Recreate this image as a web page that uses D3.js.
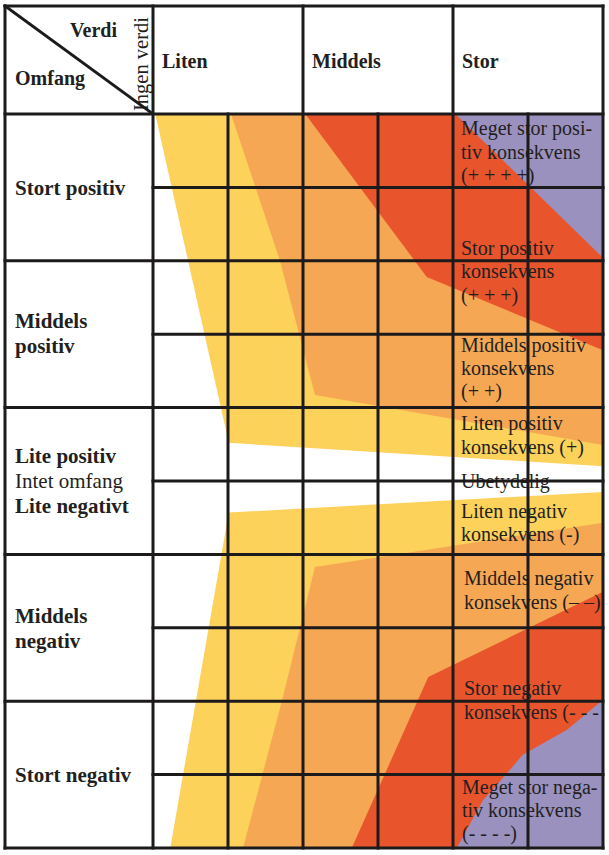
<!DOCTYPE html>
<html>
<head>
<meta charset="utf-8">
<script src="https://cdn.jsdelivr.net/npm/d3@7"></script>
<style>
html,body{margin:0;padding:0;background:#fff;}
svg{display:block;}
text{font-family:"Liberation Serif","Times New Roman",serif;fill:#231f20;}
</style>
</head>
<body>
<svg id="chart" width="609" height="855"></svg>
<script>
// ---- data ----
const valueCategories = ["Liten", "Middels", "Stor"];
const scopeCategories = ["Stort positiv", "Middels positiv", "Lite positiv / Intet omfang / Lite negativt", "Middels negativ", "Stort negativ"];
const scopeLabelLines = [
  [["Stort positiv", true]],
  [["Middels", true], ["positiv", true]],
  [["Lite positiv", true], ["Intet omfang", false], ["Lite negativt", true]],
  [["Middels", true], ["negativ", true]],
  [["Stort negativ", true]]
];
// band boundaries in grid units: x = sub-column (0..6), y = sub-row (0..10)
const yellowUpper = [[0.03,0],[6,0],[6,4.80],[1.01,4.48]];
const yellowLower = [[1.01,5.43],[6,5.15],[6,10],[0.23,10]];
const orangeUpper = [[1.04,0],[6,0],[6,4.51],[2.16,3.83],[1.69,1.99]];
const orangeLower = [[2.16,6.17],[6,5.57],[6,10],[1.20,10],[1.72,7.99]];
const redUpper = [[2.03,0],[6,0],[6,3.22],[3.65,2.22]];
const redLower = [[3.67,7.67],[6,6.51],[6,10],[2.65,10]];
const purpleUpper = [[4.03,0],[6,0],[6,1.96]];
const purpleLower = [[6,7.98],[6,10],[4.05,10],[4.40,9.35],[4.72,8.98],[4.93,8.73],[5.52,8.39]];
// row = first baseline position in sub-row units
const consequenceLabels = [
  {row:0.29, dx:0, lines:["Meget stor posi-","tiv konsekvens","(+ + + +)"]},
  {row:1.92, dx:0, lines:["Stor positiv","konsekvens","(+ + +)"]},
  {row:3.24, dx:0, lines:["Middels positiv","konsekvens","(+ +)"]},
  {row:4.31, dx:0, lines:["Liten positiv","konsekvens (+)"]},
  {row:5.10, dx:0, lines:["Ubetydelig"]},
  {row:5.50, dx:0, lines:["Liten negativ","konsekvens (-)"]},
  {row:6.42, dx:3, lines:["Middels negativ","konsekvens (– –)"]},
  {row:7.92, dx:3, lines:["Stor negativ","konsekvens (- - -"]},
  {row:9.26, dx:1, lines:["Meget stor nega-","tiv konsekvens","(- - - -)"]}
];

// ---- layout ----
const svg = d3.select("#chart");
const L = 5, T = 6, R = 603, B = 848, colX = 153, headB = 114;
const x = d3.scaleLinear().domain([0,6]).range([colX, R]);
const y = d3.scaleLinear().domain([0,10]).range([headB, B]);
const line = d3.line().x(d => x(d[0])).y(d => y(d[1]));

const bands = [
  [yellowUpper, "#fdd25b"], [yellowLower, "#fdd25b"],
  [orangeUpper, "#f6a753"], [orangeLower, "#f6a753"],
  [redUpper, "#e8552d"], [redLower, "#e8552d"],
  [purpleUpper, "#9a91bf"], [purpleLower, "#9a91bf"]
];
svg.append("g").selectAll("path").data(bands).join("path")
  .attr("d", d => line(d[0]) + "Z")
  .attr("fill", d => d[1]);

// clip for text inside chart
svg.append("clipPath").attr("id","clip").append("rect")
  .attr("x", L).attr("y", T).attr("width", R - L).attr("height", B - T);

const tg = svg.append("g").attr("clip-path","url(#clip)");

// header texts
tg.append("text").attr("x", 70).attr("y", 37).attr("font-size", 20).attr("font-weight", "bold").text("Verdi");
tg.append("text").attr("x", 15).attr("y", 85).attr("font-size", 20).attr("font-weight", "bold").text("Omfang");
tg.append("text").attr("transform", "translate(148,111) rotate(-90)").attr("font-size", 20.5).text("Ingen verdi");

tg.selectAll("text.val").data(valueCategories).join("text").attr("class","val")
  .attr("x", (d,i) => x(i*2) + 9).attr("y", 68)
  .attr("font-size", 20).attr("font-weight","bold").text(d => d);

// scope labels
const scopeBaselines = [195, 328, 463, 623, 782];
scopeLabelLines.forEach((lines, i) => {
  lines.forEach((ln, j) => {
    tg.append("text").attr("x", 15).attr("y", scopeBaselines[i] + j*25)
      .attr("font-size", 21).attr("font-weight", ln[1] ? "bold" : "normal")
      .text(ln[0]);
  });
});

// consequence labels
consequenceLabels.forEach(c => {
  c.lines.forEach((ln, j) => {
    tg.append("text").attr("x", x(4) + 8 + c.dx).attr("y", y(c.row) + j*23.3)
      .attr("font-size", 20).text(ln);
  });
});

// grid lines
const g = svg.append("g").attr("stroke", "#1c1a1a").attr("stroke-width", 3).attr("stroke-linecap","square");
// diagonal
g.append("line").attr("x1", L).attr("y1", T).attr("x2", colX).attr("y2", headB);
// horizontal
g.append("line").attr("x1", L).attr("x2", R).attr("y1", T).attr("y2", T);
g.append("line").attr("x1", L).attr("x2", R).attr("y1", headB).attr("y2", headB);
g.selectAll("line.h").data(d3.range(1, 11)).join("line").attr("class","h")
  .attr("x1", d => d % 2 === 0 ? L : colX).attr("x2", R)
  .attr("y1", d => y(d)).attr("y2", d => y(d));
// vertical
g.append("line").attr("x1", L).attr("x2", L).attr("y1", T).attr("y2", B);
g.selectAll("line.v").data(d3.range(0, 7)).join("line").attr("class","v")
  .attr("x1", d => x(d)).attr("x2", d => x(d))
  .attr("y1", d => d % 2 === 0 ? T : headB).attr("y2", B);
</script>
</body>
</html>
